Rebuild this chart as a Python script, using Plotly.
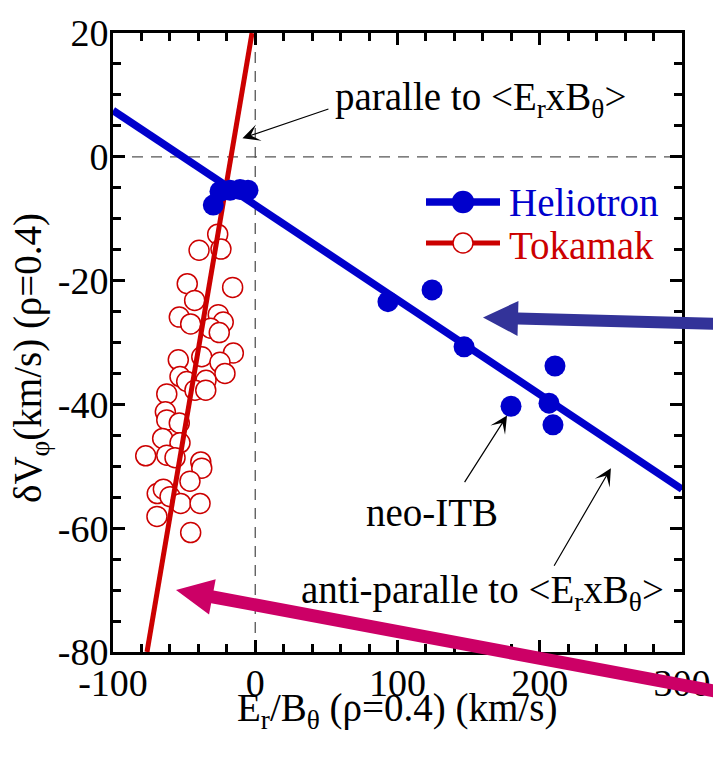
import plotly.graph_objects as go
import numpy as np

# ---- data -------------------------------------------------------------
# Heliotron: E_r/B_theta (km/s) vs delta V_phi (km/s) at rho = 0.4
helio_er_b = [-29.5, -24.8, -17.7, -10.7, -5.1, 93.3, 124.3, 146.8, 179.8, 206.5, 209.3, 210.7]
helio_dv = [-7.8, -5.6, -5.4, -5.3, -5.4, -23.4, -21.5, -30.7, -40.3, -39.8, -43.3, -33.8]

# Tokamak: E_r/B_theta (km/s) vs delta V_phi (km/s) at rho = 0.4
tok_er_b = [-26.4, -39.5, -24.1, -47.8, -15.9, -42.6, -53.4, -26.0, -22.5, -45.4,
            -31.3, -25.3, -37.6, -15.4, -54.1, -24.8, -21.3, -52.9, -48.2, -34.6,
            -42.4, -34.8, -62.2, -63.2, -62.2, -53.4, -65.1, -52.9, -77.0, -62.2,
            -56.4, -38.3, -37.6, -45.9, -68.9, -64.6, -59.9, -52.4, -38.8, -69.1,
            -45.4]
tok_dv = [-12.5, -15.1, -14.9, -20.5, -21.1, -23.2, -25.9, -25.5, -26.7, -27.0,
          -27.7, -28.4, -32.3, -31.7, -32.8, -33.2, -35.0, -35.5, -36.3, -36.1,
          -37.7, -37.7, -38.3, -41.2, -42.5, -43.0, -45.5, -46.2, -48.3, -48.2,
          -48.6, -49.3, -50.3, -52.4, -54.4, -53.7, -54.9, -56.0, -56.0, -58.1,
          -60.7]

# Linear trends
helio_fit_slope, helio_fit_intercept = -0.153, -7.8
helio_fit_x = [-100, 300]
tok_fit_slope, tok_fit_intercept = 1.355, 23.1
tok_fit_y = [-80, 20]

x_tick_vals = [-100, 0, 100, 200, 300]
x_tick_labels = ["-100", "0", "100", "200", "300"]
y_tick_vals = [-80, -60, -40, -20, 0, 20]
y_tick_labels = ["-80", "-60", "-40", "-20", "0", "20"]

# ---- geometry ---------------------------------------------------------
W, H = 713, 763
ML, MR, MT, MB = 113, 31, 33, 111
PW, PH = W - ML - MR, H - MT - MB

HELIO = "#0000CC"
TOK = "#CC0000"
FONT = "Liberation Serif, Times New Roman, serif"


def paper(px, py):
    return (px - ML) / PW, (H - MB - py) / PH


def block_arrow(tip, tail, shaft_half, head_len, head_half):
    """Filled arrow polygon (pixel geometry) as an SVG path in paper units."""
    t = np.array(tip, float)
    s = np.array(tail, float)
    u = (t - s) / np.linalg.norm(t - s)
    n = np.array([-u[1], u[0]])
    b = t - u * head_len
    pts = [s + n * shaft_half, b + n * shaft_half, b + n * head_half, t,
           b - n * head_half, b - n * shaft_half, s - n * shaft_half]
    coords = [paper(*p) for p in pts]
    return "M " + " L ".join(f"{x:.5f},{y:.5f}" for x, y in coords) + " Z"


fig = go.Figure()

fig.add_trace(go.Scatter(
    x=tok_er_b, y=tok_dv, mode="markers", name="Tokamak",
    marker=dict(symbol="circle", size=20, color="white",
                line=dict(color=TOK, width=1.5)),
    showlegend=False))

tok_fit_x = [(y - tok_fit_intercept) / tok_fit_slope for y in tok_fit_y]
fig.add_trace(go.Scatter(
    x=tok_fit_x, y=tok_fit_y, mode="lines",
    line=dict(color=TOK, width=5), showlegend=False))

helio_fit_y = [helio_fit_slope * x + helio_fit_intercept for x in helio_fit_x]
fig.add_trace(go.Scatter(
    x=helio_fit_x, y=helio_fit_y, mode="lines",
    line=dict(color=HELIO, width=7.5), showlegend=False))

fig.add_trace(go.Scatter(
    x=helio_er_b, y=helio_dv, mode="markers", name="Heliotron",
    marker=dict(symbol="circle", size=21, color=HELIO),
    showlegend=False))

shapes = [
    # zero reference lines
    dict(type="line", xref="paper", yref="y", x0=0, x1=1, y0=0, y1=0,
         line=dict(color="#555555", width=1.3, dash="11px,8px"), layer="below"),
    dict(type="line", xref="x", yref="paper", x0=0, x1=0, y0=0, y1=1,
         line=dict(color="#555555", width=1.3, dash="11px,8px"), layer="below"),
    # large pointer arrows
    dict(type="path", xref="paper", yref="paper",
         path=block_arrow((483, 317.5), (725, 324), 6, 35, 17.5),
         fillcolor="#333399", line=dict(width=0)),
    dict(type="path", xref="paper", yref="paper",
         path=block_arrow((176, 590), (725, 693), 6.5, 37, 18),
         fillcolor="#CC0066", line=dict(width=0)),
]

# legend keys
for py, color, fill in [(202, HELIO, HELIO), (243, TOK, "white")]:
    x0, y0 = paper(426, py)
    x1, _ = paper(500, py)
    xm, _ = paper(463, py)
    shapes.append(dict(type="line", xref="paper", yref="paper",
                       x0=x0, x1=x1, y0=y0, y1=y0,
                       line=dict(color=color, width=7.5 if fill != "white" else 5)))
    r = 10.5 if fill != "white" else 10
    shapes.append(dict(type="circle", xref="paper", yref="paper",
                       xsizemode="pixel", ysizemode="pixel",
                       xanchor=xm, yanchor=y0, x0=-r, x1=r, y0=-r, y1=r,
                       fillcolor=fill, line=dict(color=color, width=1.5)))

annotations = []
tf = dict(family=FONT, size=39, color="black")

for label, py, color in [("Heliotron", 202, HELIO), ("Tokamak", 246, TOK)]:
    ax_, ay_ = paper(507, py)
    annotations.append(dict(xref="paper", yref="paper", x=ax_, y=ay_,
                            xanchor="left", yanchor="middle", text=label,
                            showarrow=False,
                            font=dict(family=FONT, size=39, color=color)))

# text labels
annotations += [
    dict(xref="x", yref="y", x=158, y=9.3, text="paralle to &lt;E<sub>r</sub>xB<sub>θ</sub>&gt;",
         showarrow=False, font=tf, xanchor="center", yanchor="middle"),
    dict(xref="x", yref="y", x=124, y=-57.4, text="neo-ITB",
         showarrow=False, font=tf, xanchor="center", yanchor="middle"),
    dict(xref="x", yref="y", x=159.5, y=-70.4, text="anti-paralle to &lt;E<sub>r</sub>xB<sub>θ</sub>&gt;",
         showarrow=False, font=tf, xanchor="center", yanchor="middle"),
]

# thin pointer arrows
for (hx, hy), (tx, ty) in [((-9.0, 3.0), (52.5, 7.8)),
                           ((177.0, -41.8), (146.5, -52.8)),
                           ((250.0, -50.3), (209.5, -66.3))]:
    annotations.append(dict(xref="x", yref="y", axref="x", ayref="y",
                            x=hx, y=hy, ax=tx, ay=ty, text="", showarrow=True,
                            arrowhead=3, arrowsize=2.4, arrowwidth=1.2,
                            arrowcolor="black", standoff=0, startstandoff=0))

# axis titles
tx, ty = paper(30, 358)
annotations.append(dict(xref="paper", yref="paper", x=tx, y=ty,
                        text="δV<sub>φ</sub>(km/s) (ρ=0.4)", textangle=-90,
                        showarrow=False, font=tf, xanchor="center", yanchor="middle"))
tx, ty = paper(397, 710)
annotations.append(dict(xref="paper", yref="paper", x=tx, y=ty,
                        text="E<sub>r</sub>/B<sub>θ</sub> (ρ=0.4) (km/s)",
                        showarrow=False, font=tf, xanchor="center", yanchor="middle"))

axis_common = dict(
    showline=True, linecolor="black", linewidth=3, mirror="allticks",
    ticks="inside", ticklen=12, tickwidth=2.5, tickcolor="black",
    showgrid=False, zeroline=False,
    tickfont=dict(family=FONT, size=38, color="black"),
)

fig.update_layout(
    width=W, height=H,
    margin=dict(l=ML, r=MR, t=MT, b=MB, autoexpand=False),
    paper_bgcolor="white", plot_bgcolor="white",
    font=dict(family=FONT, size=38, color="black"),
    showlegend=False,
    xaxis=dict(range=[-100, 300], tickmode="array", tickvals=x_tick_vals,
               ticktext=x_tick_labels, ticklabelstandoff=-5,
               minor=dict(tickmode="linear", tick0=0, dtick=20, ticks="inside",
                          ticklen=8, tickwidth=2.5, tickcolor="black"),
               **axis_common),
    yaxis=dict(range=[-80, 20], tickmode="array", tickvals=y_tick_vals,
               ticktext=y_tick_labels, ticklabelstandoff=-6,
               minor=dict(tickmode="linear", tick0=0, dtick=5, ticks="inside",
                          ticklen=8, tickwidth=2.5, tickcolor="black"),
               **axis_common),
    shapes=shapes,
    annotations=annotations,
)

fig.write_html("out.html")
